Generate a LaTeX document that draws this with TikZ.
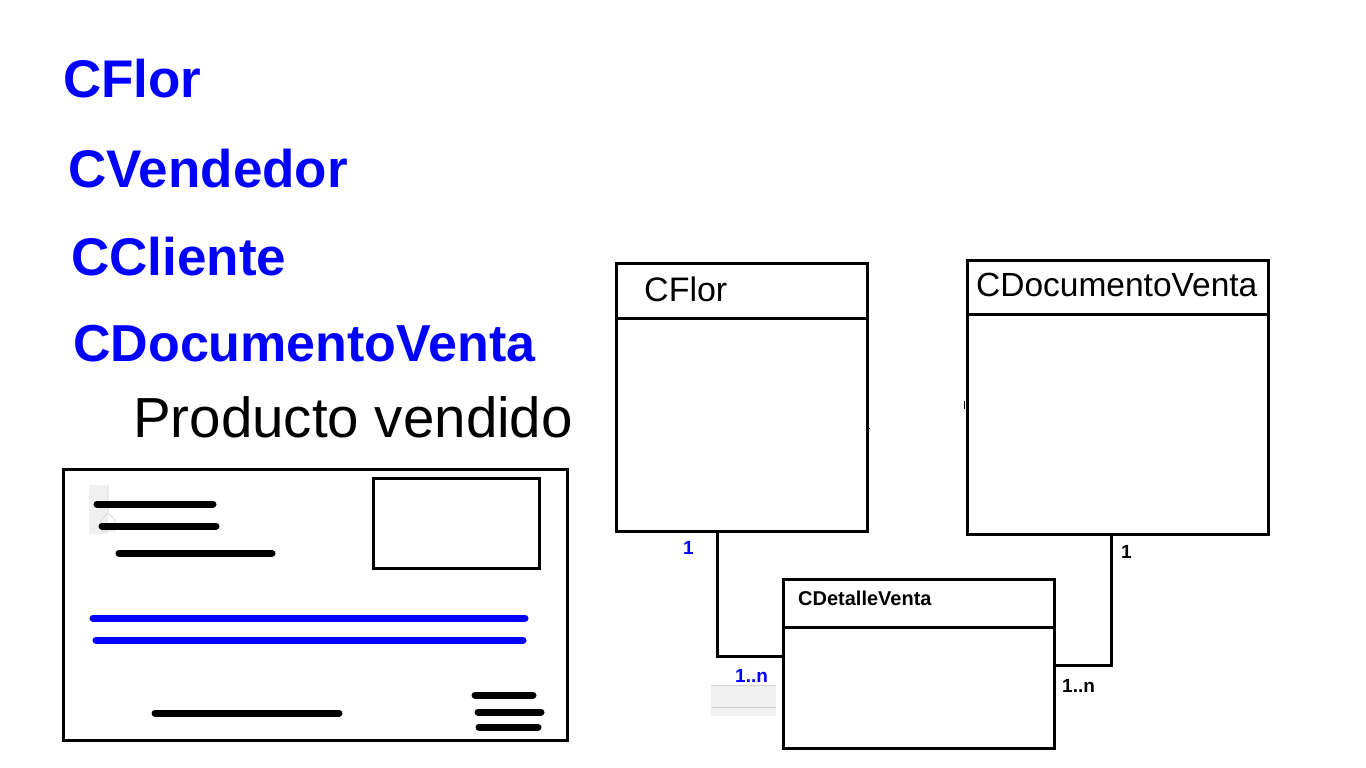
\documentclass[tikz,border=0pt]{standalone}
\usepackage{fontspec}
\setmainfont{Liberation Sans}
\definecolor{ublue}{RGB}{0,0,255}
\definecolor{artgray}{RGB}{240,240,240}
\definecolor{artline}{RGB}{210,210,210}
\begin{document}
\begin{tikzpicture}[x=1pt,y=-1pt,
  bigtitle/.style={anchor=base west,inner sep=0,text=ublue,font=\fontsize{53}{53}\selectfont\bfseries},
  umlbox/.style={draw=black,line width=3pt,inner sep=0,fill=none},
  umltitle/.style={anchor=base west,inner sep=0,font=\fontsize{34}{34}\selectfont},
  conn/.style={draw=black,line width=3pt},
  mult/.style={anchor=base west,inner sep=0,font=\fontsize{19}{19}\selectfont\bfseries},
  docline/.style={line width=7pt,line cap=round},
  frame/.style={draw=black,line width=3pt}]
\useasboundingbox (0,0) rectangle (1366,768);
\fill[white] (0,0) rectangle (1366,768);

% big titles
\node[bigtitle] (t1) at (63,97) {CFlor};
\node[bigtitle] (t2) at (68,187) {CVendedor};
\node[bigtitle] (t3) at (71,275) {CCliente};
\node[bigtitle,font=\fontsize{52}{52}\selectfont\bfseries] (t4) at (73,361) {CDocumentoVenta};
\node[anchor=base west,inner sep=0,font=\fontsize{56.5}{56.5}\selectfont] (t5) at (133,437) {Producto vendido};

% document icon
\draw[frame] (63,469) rectangle (567,740);
\draw[black,line width=3pt] (373,478) rectangle (539,568);
\fill[artgray] (89,485) rectangle (108,534);
\draw[artline,line width=0.6pt] (108,485) -- (108,513) -- (115,520) -- (115,531) -- (101,531) -- (101,520) -- (108,513);
\draw[docline] (97,504) -- (213,504);
\draw[docline] (102,526) -- (216,526);
\draw[docline] (119,553) -- (272,553);
\draw[docline,ublue] (93,618) -- (525,618);
\draw[docline,ublue] (96,640) -- (523,640);
\draw[docline] (155,713) -- (339,713);
\draw[docline] (475,695) -- (533,695);
\draw[docline] (478,712) -- (541,712);
\draw[docline] (479,727) -- (538,727);

% UML boxes
\node[umlbox,minimum width=251pt,minimum height=268pt] (flor) at (741.5,397) {};
\draw[line width=3pt] (616,318) -- (869,318);
\node[umltitle] (florT) at (644,301) {CFlor};

\node[umlbox,minimum width=301pt,minimum height=274pt] (doc) at (1117.5,397) {};
\draw[line width=3pt] (967,314) -- (1268,314);
\node[umltitle,font=\fontsize{33.5}{33.5}\selectfont] (docT) at (976,296) {CDocumentoVenta};

\node[umlbox,minimum width=271pt,minimum height=169pt] (det) at (918.5,663.5) {};
\draw[line width=3pt] (783,627) -- (1054,627);
\node[umltitle,font=\fontsize{20}{20}\selectfont\bfseries] (detT) at (798,605) {CDetalleVenta};

% small marks
\draw[line width=1pt] (867,428) -- (870,428);
\draw[line width=1.5pt] (964.5,401) -- (964.5,409);

% connectors
\draw[conn] ([xshift=-24.5pt]flor.south) |- ([yshift=7.5pt]det.west);
\draw[conn] ([xshift=-6.5pt]doc.south) |- ([yshift=-1.5pt]det.east);

% artifact box
\fill[artgray] (711,685) rectangle (776,716);
\draw[artline,line width=0.6pt] (711,685) -- (776,685);
\draw[artline,line width=0.6pt] (711,707) -- (776,707);

% multiplicities
\node[mult,text=ublue] (m1) at (683,554) {1};
\node[mult,text=ublue] (m2) at (735,682) {1..n};
\node[mult] (m3) at (1121,558) {1};
\node[mult] (m4) at (1062,692) {1..n};
\end{tikzpicture}
\end{document}
